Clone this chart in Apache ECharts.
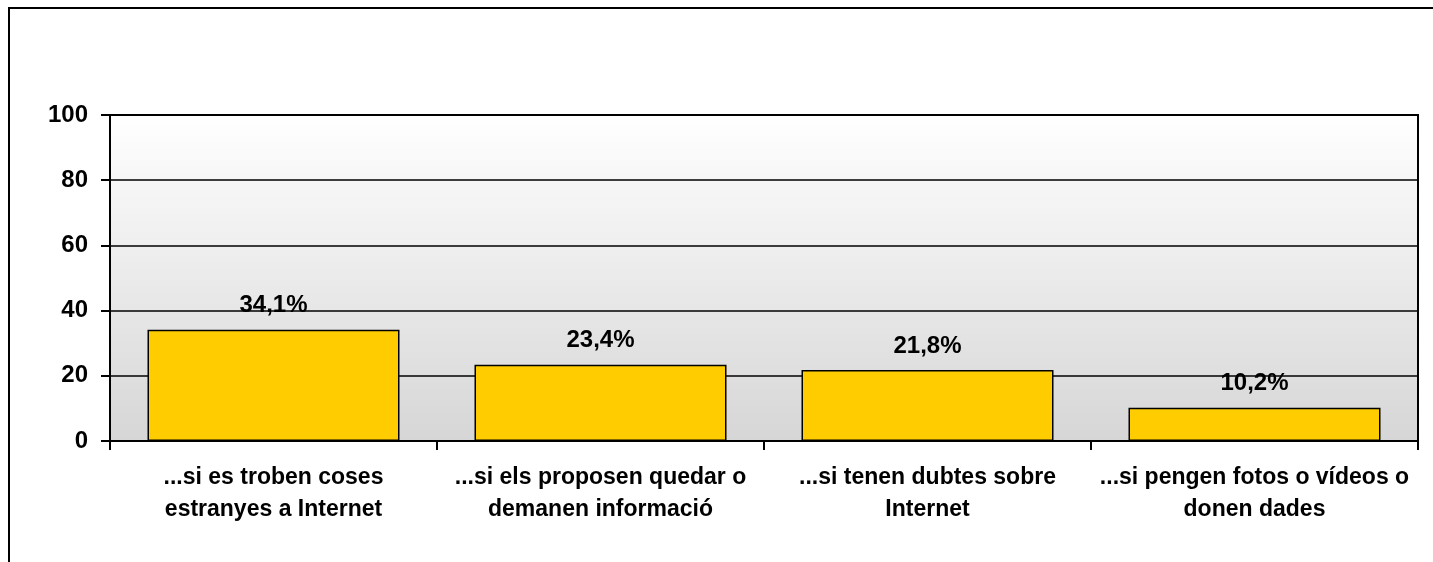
<!DOCTYPE html>
<html>
<head>
<meta charset="utf-8">
<script src="https://cdn.jsdelivr.net/npm/echarts@6/dist/echarts.min.js"></script>
<style>
  html, body { margin: 0; padding: 0; background: #fff; }
  #chart { width: 1433px; height: 562px; }
</style>
</head>
<body>
<div id="chart"></div>
<script>
// dades
const categories = [
  '...si es troben coses\nestranyes a Internet',
  '...si els proposen quedar o\ndemanen informació',
  '...si tenen dubtes sobre\nInternet',
  '...si pengen fotos o vídeos o\ndonen dades'
]
const values = [34.1, 23.4, 21.8, 10.2]
const yTicks = [0, 20, 40, 60, 80, 100]

const font = '"Liberation Sans", Arial, sans-serif'

const option = {
  backgroundColor: '#fff',
  animation: false,
  graphic: [
    {
      type: 'rect',
      shape: { x: 9, y: 8, width: 1600, height: 700 },
      style: { fill: 'none', stroke: '#000', lineWidth: 2 },
      z: -1,
    },
  ],
  grid: {
    left: 110,
    top: 115,
    right: 15,
    bottom: 121,
    show: true,
    borderColor: '#000',
    borderWidth: 2,
    backgroundColor: {
      type: 'linear', x: 0, y: 0, x2: 0, y2: 1,
      colorStops: [
        { offset: 0, color: '#ffffff' },
        { offset: 1, color: '#d6d6d6' },
      ],
    },
  },
  xAxis: {
    type: 'category',
    data: categories,
    axisLine: { lineStyle: { color: '#000', width: 2 } },
    axisTick: { show: true, length: 9, lineStyle: { color: '#000', width: 2 } },
    axisLabel: {
      color: '#000',
      fontFamily: font,
      fontWeight: 'bold',
      fontSize: 23,
      lineHeight: 32,
      margin: 21,
      interval: 0,
    },
  },
  yAxis: {
    type: 'value',
    min: yTicks[0],
    max: yTicks[yTicks.length - 1],
    interval: 20,
    axisLine: { show: true, lineStyle: { color: '#000', width: 2 } },
    axisTick: { show: true, length: 9, lineStyle: { color: '#000', width: 2 } },
    splitLine: { lineStyle: { color: '#000', width: 1.5 } },
    axisLabel: {
      color: '#000',
      fontFamily: font,
      fontWeight: 'bold',
      fontSize: 24,
      margin: 22,
    },
  },
  series: [
    {
      type: 'bar',
      data: values,
      barWidth: 252,
      itemStyle: { color: '#ffcc00', borderColor: '#000', borderWidth: 1.5 },
      label: {
        show: true,
        position: 'top',
        distance: 12,
        color: '#000',
        fontFamily: font,
        fontWeight: 'bold',
        fontSize: 24,
        formatter: (p) => p.value.toFixed(1).replace('.', ',') + '%',
      },
    },
  ],
}

const chartObj = echarts.init(document.getElementById('chart'))
chartObj.setOption(option)
</script>
</body>
</html>
